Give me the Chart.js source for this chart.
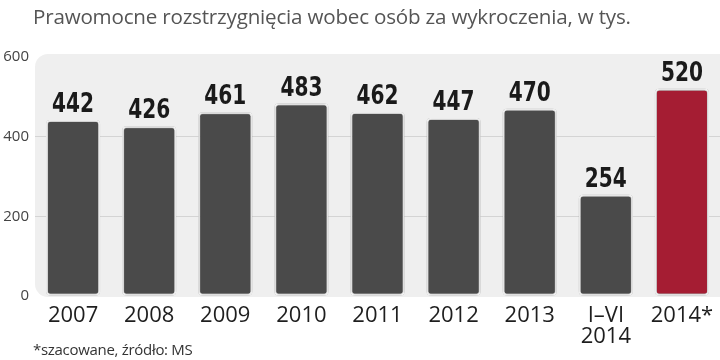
<!DOCTYPE html>
<html><head><meta charset="utf-8">
<script src="https://cdn.jsdelivr.net/npm/chart.js@4/dist/chart.umd.min.js"></script>
<style>
html,body{margin:0;padding:0;background:#fff;}
#wrap{position:relative;width:720px;height:360px;overflow:hidden;}
#c{position:absolute;left:0;top:0;}
#title{position:absolute;left:33px;top:2px;font-family:"Open Sans",sans-serif;font-size:20.6px;color:#555;white-space:nowrap;letter-spacing:-0.2px;}
#note{position:absolute;left:33px;top:339px;font-family:"Open Sans",sans-serif;font-size:15px;color:#333;white-space:nowrap;letter-spacing:-0.3px;}
</style></head>
<body><div id="wrap">
<canvas id="c" width="720" height="360"></canvas>
<div id="title">Prawomocne rozstrzygnięcia wobec osób za wykroczenia, w tys.</div>
<div id="note">*szacowane, źródło: MS</div>
</div>
<script>
const categories = ['2007','2008','2009','2010','2011','2012','2013',['I–VI','2014'],'2014*'];
const values = [442,426,461,483,462,447,470,254,520];
const barColors = ['#4a4a4a','#4a4a4a','#4a4a4a','#4a4a4a','#4a4a4a','#4a4a4a','#4a4a4a','#4a4a4a','#a51d33'];
const yTicks = [0,200,400,600];

const panel = {
  id:'panel',
  beforeDraw(chart){
    const {ctx, chartArea:a} = chart;
    ctx.save();
    ctx.fillStyle = '#efefef';
    ctx.beginPath();
    ctx.roundRect(a.left, a.top-3, a.right-a.left+20, a.bottom-a.top+4, 13);
    ctx.fill();
    ctx.restore();
  }
};
const shadow = {
  id:'shadow',
  beforeDatasetsDraw(chart){
    chart.ctx.save();
    chart.ctx.shadowColor='rgba(0,0,0,0.5)';
    chart.ctx.shadowBlur=3;
  },
  afterDatasetsDraw(chart){ chart.ctx.restore(); }
};
const labels = {
  id:'labels',
  afterDatasetsDraw(chart){
    const {ctx} = chart;
    const meta = chart.getDatasetMeta(0);
    ctx.save();
    ctx.font = 'bold 26px "DejaVu Sans Condensed", "DejaVu Sans", sans-serif';
    ctx.fillStyle = '#1a1a1a';
    ctx.textAlign = 'center';
    ctx.textBaseline = 'alphabetic';
    meta.data.forEach((bar,i)=>{
      ctx.save();
      ctx.translate(bar.x, bar.y-8);
      ctx.scale(0.86,1);
      ctx.fillText(String(values[i]), 0, 0);
      ctx.restore();
    });
    ctx.restore();
  }
};

new Chart(document.getElementById('c'), {
  type:'bar',
  data:{labels:categories, datasets:[{data:values, backgroundColor:barColors, borderColor:'#ffffff', borderWidth:2, borderRadius:4, borderSkipped:false, barPercentage:0.71, categoryPercentage:1}]},
  options:{
    responsive:false, animation:false,
    layout:{padding:{top:57,left:0,right:0,bottom:0}},
    plugins:{legend:{display:false}, tooltip:{enabled:false}},
    scales:{
      x:{
        grid:{display:false},
        border:{display:false},
        ticks:{color:'#1e1e1e', font:{family:'"Open Sans", sans-serif', size:22, lineHeight:0.92}, padding:2, maxRotation:0, autoSkip:false},
        afterFit(s){ s.height = 64; }
      },
      y:{
        min:0, max:600,
        afterBuildTicks(s){ s.ticks = yTicks.map(v=>({value:v})); },
        border:{display:false},
        grid:{drawTicks:false, color:(c)=> (c.tick && (c.tick.value===200||c.tick.value===400)) ? '#d4d4d4' : 'rgba(0,0,0,0)', lineWidth:1},
        ticks:{color:'#444', font:{family:'"Open Sans", sans-serif', size:15}, padding:6},
        afterFit(s){ s.width = 35; }
      }
    }
  },
  plugins:[panel, shadow, labels]
});
</script>
</body></html>
